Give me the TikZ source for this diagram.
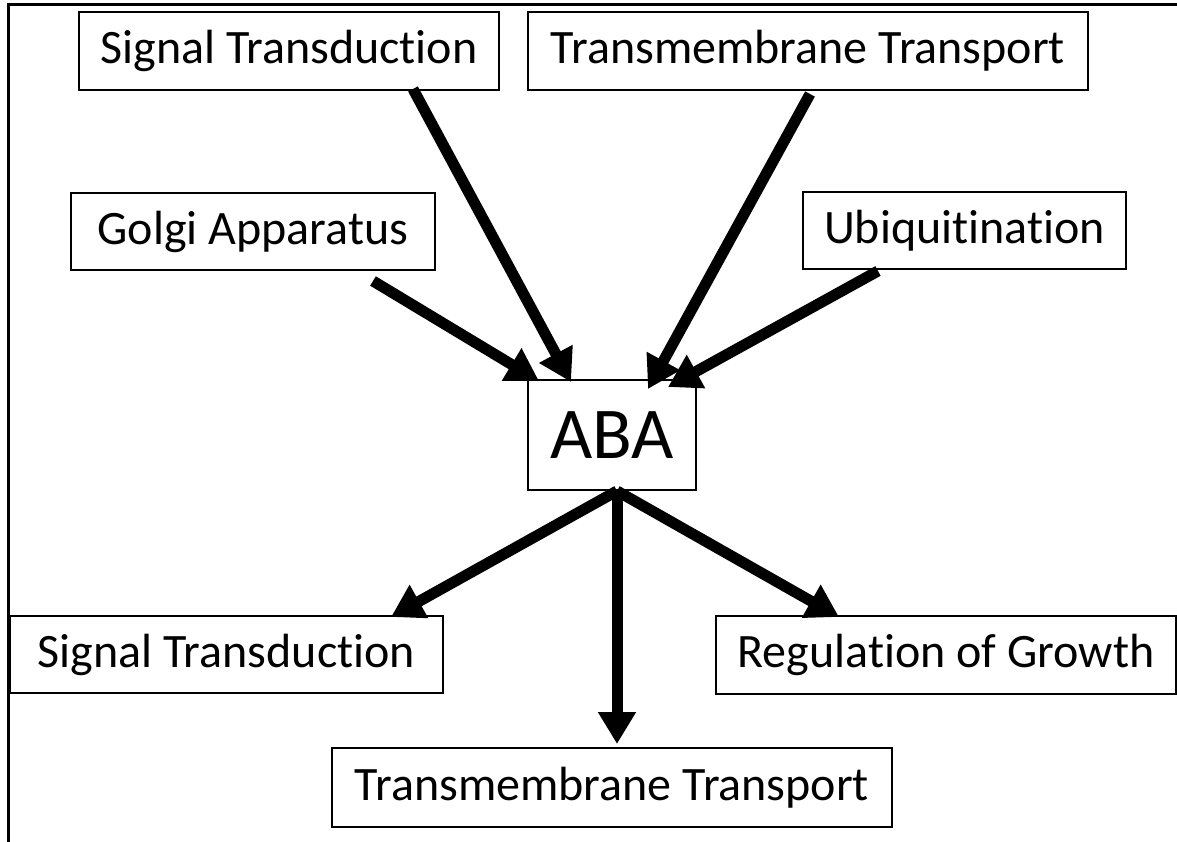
\documentclass[tikz,border=0pt]{standalone}
\usepackage{fontspec}
\setmainfont{Carlito}[Ligatures=NoCommon]
\usetikzlibrary{arrows.meta,calc}
\begin{document}
\begin{tikzpicture}[x=1pt,y=-1pt,
  box/.style={draw=black,line width=2pt,fill=white,rectangle,inner sep=0pt,
    font=\fontsize{48}{56}\selectfont},
  arr/.style={line width=11pt,-{Triangle[length=32pt,width=36pt]}}]
\useasboundingbox (0,0) rectangle (1177,842);
\draw[line width=3pt] (8,842) -- (8,5) -- (1177,5);
\node[box,minimum width=420pt,minimum height=78pt] (st1) at (289,51) {Signal Transduction};
\node[box,minimum width=560pt,minimum height=78pt] (tt1) at (808,51) {Transmembrane Transport};
\node[box,minimum width=364pt,minimum height=77pt] (golgi) at (253,231.5) {Golgi Apparatus};
\node[box,minimum width=323pt,minimum height=77pt] (ubi) at (964.5,230.5) {Ubiquitination};
\node[box,minimum width=168pt,minimum height=110pt,font=\fontsize{73}{80}\selectfont] (aba) at (612,435) {ABA};
\node[box,minimum width=433pt,minimum height=77pt] (st2) at (226.5,654.5) {Signal Transduction};
\node[box,minimum width=460pt,minimum height=78pt] (reg) at (946,655) {Regulation of Growth};
\node[box,minimum width=560pt,minimum height=79pt] (tt2) at (612,787.5) {Transmembrane Transport};
\draw[arr] ($(golgi.south)+(120,10)$) -- ($(aba.north west)+(12,2)$);
\draw[arr] ($(st1.south)+(124,-2)$) -- ($(aba.north west)+(44,3)$);
\draw[arr] ($(tt1.south)+(2,3)$) -- ($(aba.north east)+(-49,10)$);
\draw[arr] ($(ubi.south)+(-86.5,1)$) -- ($(aba.north east)+(-29,8)$);
\draw[arr] ($(aba.south)+(5,0)$) -- ($(tt2.north)+(5,-3)$);
\draw[arr] ($(aba.south)+(5,0)$) -- ($(st2.north east)+(-53,2)$);
\draw[arr] ($(aba.south)+(5,0)$) -- ($(reg.north west)+(124,2)$);
\end{tikzpicture}
\end{document}
